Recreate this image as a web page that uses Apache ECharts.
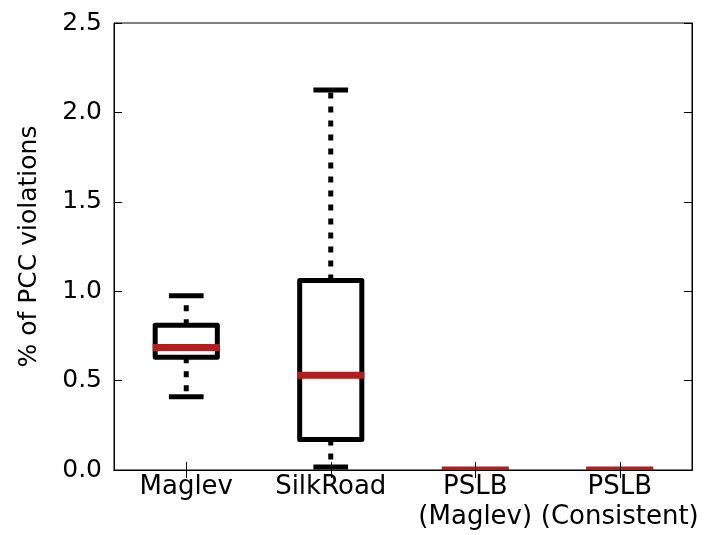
<!DOCTYPE html>
<html>
<head>
<meta charset="utf-8">
<script src="https://cdn.jsdelivr.net/npm/echarts@6/dist/echarts.min.js"></script>
<style>html,body{margin:0;padding:0;background:#fff}#c{width:707px;height:535px}</style>
</head>
<body>
<div id="c"></div>
<script>
const categories = ['Maglev', 'SilkRoad', 'PSLB\n(Maglev)', 'PSLB\n(Consistent)'];
const lowerWhisker = [0.41, 0.017, 0, 0];
const q1Values = [0.63, 0.17, 0, 0];
const medianValues = [0.685, 0.53, 0, 0];
const q3Values = [0.81, 1.06, 0, 0];
const upperWhisker = [0.975, 2.125, 0, 0];
const yTicks = [0, 0.5, 1.0, 1.5, 2.0, 2.5];

const data = categories.map((c, i) => [i, lowerWhisker[i], q1Values[i], medianValues[i], q3Values[i], upperWhisker[i]]);

const font = 'DejaVu Sans';
const chart = echarts.init(document.getElementById('c'));

function renderItem(params, api) {
  const i = api.value(0);
  const bw = api.size([1, 0])[0];
  const pLow = api.coord([i, api.value(1)]);
  const pQ1 = api.coord([i, api.value(2)]);
  const pMed = api.coord([i, api.value(3)]);
  const pQ3 = api.coord([i, api.value(4)]);
  const pHigh = api.coord([i, api.value(5)]);
  const cx = pMed[0];
  const boxHalf = bw * 0.215;
  const medHalf = bw * 0.232;
  const capHalf = bw * 0.12;
  const whiskerStyle = { stroke: '#000', lineWidth: 5, lineDash: [6, 8], fill: null };
  const solid = { stroke: '#000', lineWidth: 5, fill: null, lineJoin: 'round' };
  return {
    type: 'group',
    children: [
      { type: 'line', shape: { x1: cx, y1: pQ3[1], x2: cx, y2: pHigh[1] }, style: whiskerStyle },
      { type: 'line', shape: { x1: cx, y1: pQ1[1], x2: cx, y2: pLow[1] }, style: whiskerStyle },
      { type: 'rect', shape: { x: cx - boxHalf, y: pQ3[1], width: boxHalf * 2, height: pQ1[1] - pQ3[1] }, style: solid },
      { type: 'line', shape: { x1: cx - capHalf, y1: pHigh[1], x2: cx + capHalf, y2: pHigh[1] }, style: solid },
      { type: 'line', shape: { x1: cx - capHalf, y1: pLow[1], x2: cx + capHalf, y2: pLow[1] }, style: solid },
      { type: 'line', shape: { x1: cx - medHalf, y1: pMed[1], x2: cx + medHalf, y2: pMed[1] }, style: { stroke: '#b21e1e', lineWidth: 7 } }
    ]
  };
}

const tickStyle = { show: true, inside: true, length: 8, lineStyle: { color: '#000', width: 1 } };

chart.setOption({
  animation: false,
  backgroundColor: '#fff',
  grid: { left: 114, right: 15, top: 23, bottom: 65, show: true, borderColor: '#000', borderWidth: 1, backgroundColor: 'transparent' },
  xAxis: [
    {
      type: 'category', data: categories, boundaryGap: true,
      axisLine: { show: true, lineStyle: { color: '#000', width: 1 } },
      axisTick: Object.assign({ alignWithLabel: true, interval: 0 }, tickStyle),
      axisLabel: { color: '#000', fontFamily: font, fontSize: 26, lineHeight: 30, margin: 2, interval: 0 },
      splitLine: { show: false }, z: 10
    },
    {
      type: 'category', data: categories, boundaryGap: true, position: 'top',
      axisLine: { show: true, lineStyle: { color: '#000', width: 1 } },
      axisTick: Object.assign({ alignWithLabel: true, interval: 0 }, tickStyle),
      axisLabel: { show: false }, splitLine: { show: false }
    }
  ],
  yAxis: [
    {
      type: 'value', min: yTicks[0], max: yTicks[yTicks.length - 1], interval: 0.5,
      name: '% of PCC violations', nameLocation: 'middle', nameGap: 72,
      nameTextStyle: { color: '#000', fontFamily: font, fontSize: 25 },
      axisLine: { show: true, lineStyle: { color: '#000', width: 1 } },
      axisTick: tickStyle,
      axisLabel: { color: '#000', fontFamily: font, fontSize: 25, margin: 12, formatter: v => v.toFixed(1) },
      splitLine: { show: false }
    },
    {
      type: 'value', min: yTicks[0], max: yTicks[yTicks.length - 1], interval: 0.5, position: 'right',
      axisLine: { show: true, lineStyle: { color: '#000', width: 1 } },
      axisTick: tickStyle,
      axisLabel: { show: false }, splitLine: { show: false }
    }
  ],
  series: [{
    type: 'custom', renderItem: renderItem, data: data, clip: true,
    encode: { x: 0, y: [1, 2, 3, 4, 5] }, z: 2
  }]
});
</script>
</body>
</html>
